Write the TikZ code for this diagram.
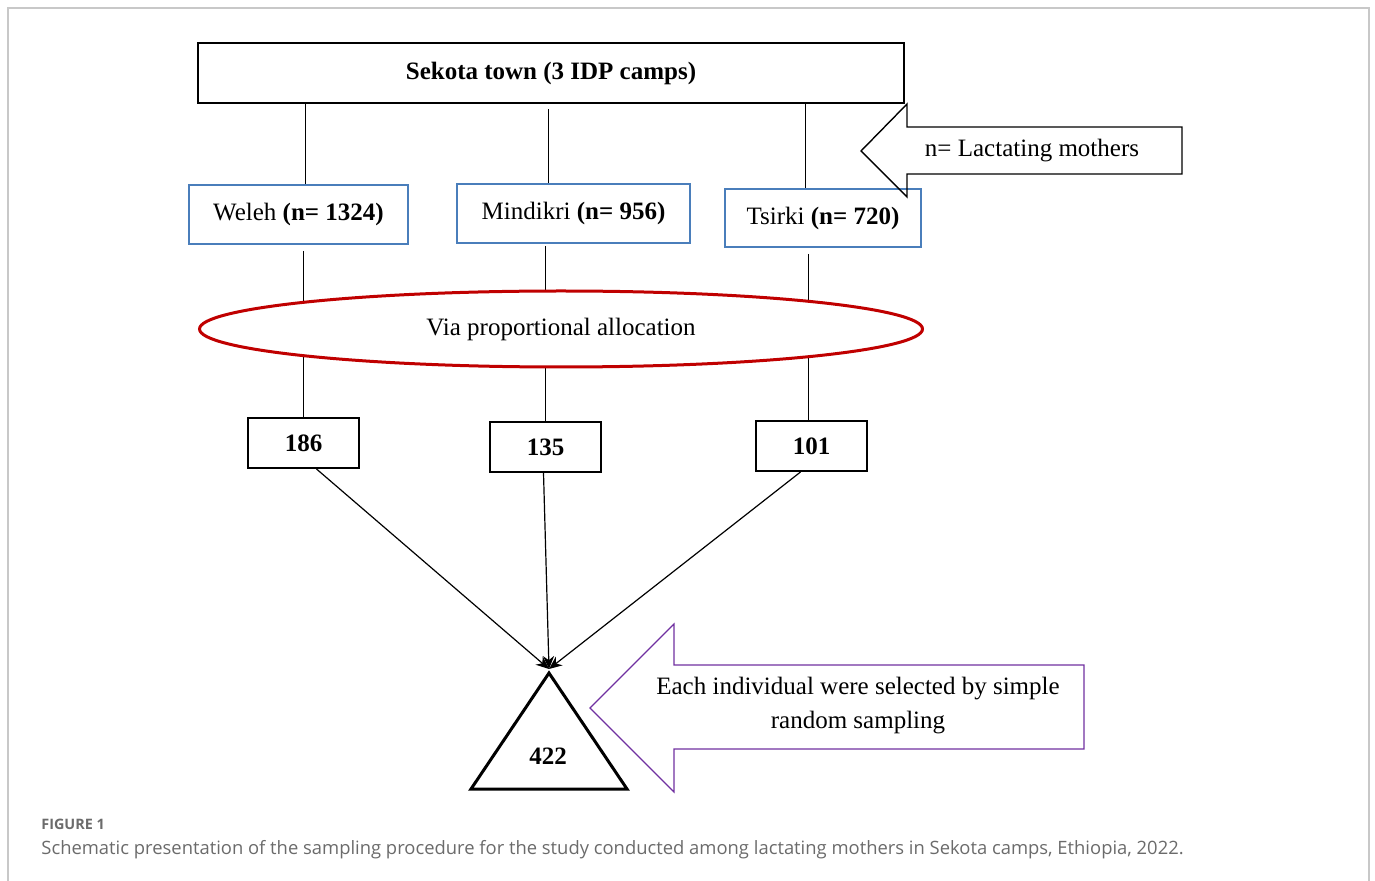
\documentclass[tikz,border=0pt]{standalone}
\usepackage{fontspec}
\setmainfont{Liberation Serif}
\newfontfamily\capfont{Open Sans}
\usepackage{xcolor}
\usetikzlibrary{shapes,arrows.meta}
\definecolor{campblue}{HTML}{4A7EBB}
\definecolor{allocred}{HTML}{C00000}
\definecolor{notepurple}{HTML}{7030A0}
\definecolor{framegray}{HTML}{C8C8C8}
\definecolor{capgray}{HTML}{6B6B6B}
\newcommand{\diagfont}{\fontsize{12.5}{17}\selectfont}
\tikzset{TopNode/.style={draw,line width=1.3pt,inner sep=0pt,minimum width=353pt,minimum height=30pt,font=\diagfont\bfseries}}
\tikzset{CampNode/.style={draw=campblue,line width=0.8pt,inner sep=0pt,minimum height=29.5pt}}
\tikzset{SizeNode/.style={draw,line width=1pt,inner sep=0pt,minimum width=55.5pt,minimum height=25pt,font=\diagfont\bfseries}}
\tikzset{AllocNode/.style={ellipse,draw=allocred,line width=1.5pt,fill=white,inner sep=0pt,minimum width=361.5pt,minimum height=38pt}}

\begin{document}
\begin{tikzpicture}[x=0.5pt,y=-0.5pt,font=\diagfont,>={Stealth[length=6.5pt,width=5.5pt]}]
	\useasboundingbox (0,0) rectangle (1375,881);
	\draw[framegray,line width=0.8pt] (8,881) -- (8,8) -- (1369,8) -- (1369,881);
	%
	\node[TopNode] (top) at (551,73) {Sekota town (3 IDP camps)};
	\node[CampNode,minimum width=109.5pt] (weleh) at (298.5,214.5) {Weleh \textbf{(n= 1324)}};
	\node[CampNode,minimum width=116.5pt] (mindikri) at (573.5,213.5) {Mindikri \textbf{(n= 956)}};
	\node[CampNode,minimum width=98pt,minimum height=29pt] (tsirki) at (823,218) {Tsirki \textbf{(n= 720)}};
	\node[SizeNode] (n186) at (303.5,443) {186};
	\node[SizeNode] (n135) at (545.5,447) {135};
	\node[SizeNode] (n101) at (811.5,446) {101};
	\coordinate (apex) at (549,669);
	%
	\path[draw,line width=0.6pt]
	([xshift=1pt]top.south -| n186) edge ([xshift=1pt]weleh.north -| n186)
	([xshift=1.5pt,yshift=-2.5pt]top.south -| n135) edge ([xshift=1.5pt]mindikri.north -| n135)
	([xshift=-3pt]top.south -| n101) edge ([xshift=-3pt]tsirki.north -| n101)
	([yshift=-3pt]weleh.south -| n186) edge (n186.north)
	([yshift=-1pt]mindikri.south -| n135) edge (n135.north)
	([xshift=-1.5pt,yshift=-3pt]tsirki.south -| n101) edge ([xshift=-1.5pt]n101.north);
	\node[AllocNode] (alloc) at (561,329) {Via proportional allocation};
	%
	\path[->,line width=0.6pt]
	([xshift=6.5pt]n186.south) edge (apex)
	([xshift=-1pt]n135.south) edge (apex)
	([xshift=-5.5pt]n101.south) edge (apex);
	\draw[line width=1.5pt,line join=miter] (549,673) -- (471,789) -- (627,789) -- cycle;
	\node[font=\diagfont\bfseries] (total) at (548,756) {422};
	%
	\draw[line width=0.7pt] (861,151) -- (907,104) -- (907,127) -- (1182,127) -- (1182,174) -- (907,174) -- (907,197) -- cycle;
	\node (mothers) at (1032,151) {n= Lactating mothers};
	\draw[notepurple,line width=0.6pt] (590,708) -- (674,624) -- (674,665) -- (1084,665) -- (1084,749) -- (674,749) -- (674,792) -- cycle;
	\node[align=center] (srs) at (858,706) {Each individual were selected by simple\\random sampling};
	%
	\node[anchor=base west,inner sep=0pt,text=capgray,font=\capfont\fontsize{7.2}{9}\selectfont\bfseries] (fig) at (41,829) {FIGURE 1};
	\node[anchor=base west,inner sep=0pt,text=capgray,font=\capfont\fontsize{9.2}{11}\selectfont] (cap) at (41,854) {Schematic presentation of the sampling procedure for the study conducted among lactating mothers in Sekota camps, Ethiopia, 2022.};
\end{tikzpicture}
\end{document}
